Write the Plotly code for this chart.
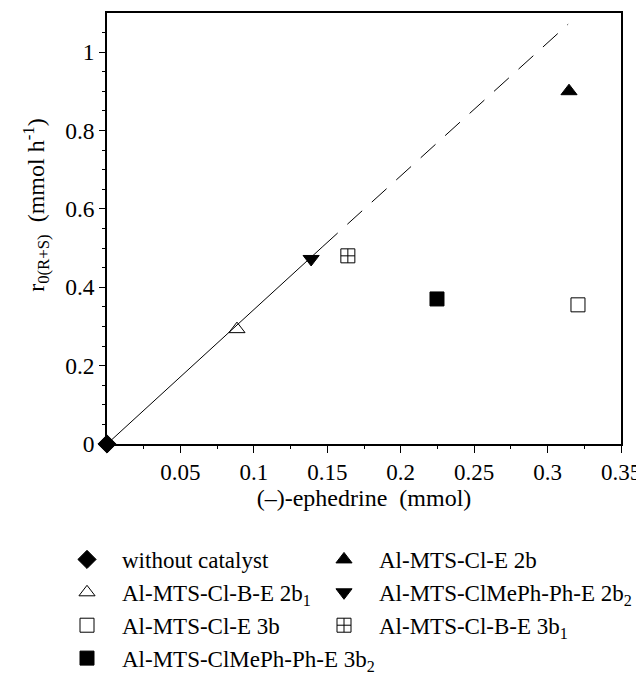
import plotly.graph_objects as go

# Data
col1_names = [
    "without catalyst",
    "Al-MTS-Cl-B-E 2b<sub>1</sub>",
    "Al-MTS-Cl-E 3b",
    "Al-MTS-ClMePh-Ph-E 3b<sub>2</sub>",
]
col1_x = [0.0, 0.0885, 0.3207, 0.2247]
col1_y = [0.0, 0.293, 0.355, 0.370]
col1_symbols = ["diamond", "triangle-up-open", "square-open", "square"]

col2_names = [
    "Al-MTS-Cl-E 2b",
    "Al-MTS-ClMePh-Ph-E 2b<sub>2</sub>",
    "Al-MTS-Cl-B-E 3b<sub>1</sub>",
]
col2_x = [0.3146, 0.139, 0.164]
col2_y = [0.90, 0.472, 0.480]
col2_symbols = ["triangle-up", "triangle-down", "square-cross-open"]

fit_solid_x = [0.0, 0.147]
fit_solid_y = [0.0, 0.504]
fit_dash_x = [0.147, 0.314]
fit_dash_y = [0.504, 1.071]

x_ticks = [0.05, 0.1, 0.15, 0.2, 0.25, 0.3, 0.35]
x_tick_text = ["0.05", "0.1", "0.15", "0.2", "0.25", "0.3", "0.35"]
y_ticks = [0, 0.2, 0.4, 0.6, 0.8, 1.0]
y_tick_text = ["0", "0.2", "0.4", "0.6", "0.8", "1"]

FONT = "Liberation Serif, Times New Roman, serif"

fig = go.Figure()
fig.add_trace(go.Scatter(x=fit_solid_x, y=fit_solid_y, mode="lines",
                         line=dict(color="black", width=1), showlegend=False,
                         hoverinfo="skip"))
fig.add_trace(go.Scatter(x=fit_dash_x, y=fit_dash_y, mode="lines",
                         line=dict(color="black", width=1, dash="20px,13px"),
                         showlegend=False, hoverinfo="skip"))

for names, xs, ys, syms, leg in [(col1_names, col1_x, col1_y, col1_symbols, "legend"),
                                 (col2_names, col2_x, col2_y, col2_symbols, "legend2")]:
    for i, name in enumerate(names):
        fig.add_trace(go.Scatter(
            x=[xs[i]], y=[ys[i]], mode="markers", name=name, legend=leg,
            cliponaxis=False,
            marker=dict(symbol=syms[i], size=14, color="black",
                        line=dict(color="black", width=1)),
        ))

legend_common = dict(orientation="v", yanchor="top", xanchor="left",
                     itemwidth=60, font=dict(family=FONT, size=23),
                     bgcolor="rgba(0,0,0,0)", tracegroupgap=0)

fig.update_layout(
    width=644, height=667,
    margin=dict(l=99, r=31, t=5, b=231, autoexpand=False),
    plot_bgcolor="white", paper_bgcolor="white",
    font=dict(family=FONT, color="black", size=24),
    showlegend=True,
    legend=dict(x=-0.107, y=-0.218, **legend_common),
    legend2=dict(x=0.393, y=-0.218, **legend_common),
    xaxis=dict(range=[0, 0.35], tickvals=x_ticks, ticktext=x_tick_text,
               showgrid=False, zeroline=False, showline=True, linecolor="black",
               linewidth=1.5, mirror=True, ticks="outside", ticklen=7,
               tickcolor="black", automargin=False, ticklabeloverflow="allow",
               minor=dict(dtick=0.025, tick0=0, ticks="outside", ticklen=3,
                          tickcolor="black"),
               title=dict(text="(\u2013)-ephedrine\u00a0 (mmol)", standoff=4,
                          font=dict(size=24)),
               tickfont=dict(size=23)),
    yaxis=dict(range=[0, 1.0995], tickvals=y_ticks, ticktext=y_tick_text,
               showgrid=False, zeroline=False, showline=True, linecolor="black",
               linewidth=1.5, mirror=True, ticks="outside", ticklen=6,
               tickcolor="black", automargin=False,
               minor=dict(dtick=0.05, tick0=0, ticks="outside", ticklen=3,
                          tickcolor="black"),
               tickfont=dict(size=23.5)),
    annotations=[dict(
        text="r<sub>0(R+S)</sub>\u00a0 (mmol h<sup>-1</sup>)",
        xref="paper", yref="paper", x=-0.138, y=0.555,
        xanchor="center", yanchor="middle", textangle=-90, showarrow=False,
        font=dict(family=FONT, size=24, color="black"))],
)

fig.write_html("out.html")
